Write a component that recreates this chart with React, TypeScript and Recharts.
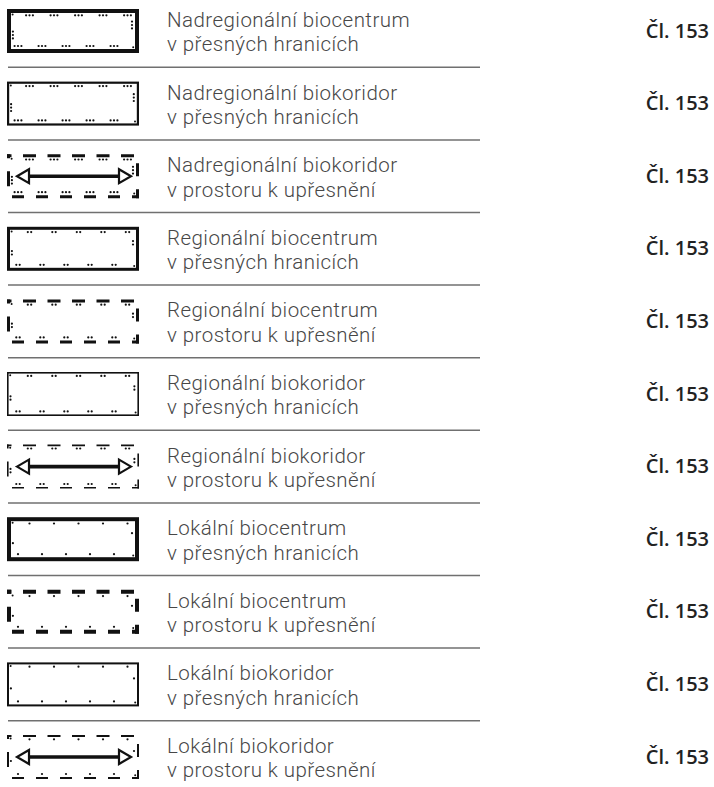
import React from "react";
import { ScatterChart, Scatter, XAxis, YAxis } from "recharts";

// legend rows, top to bottom
const titles = [
  "Nadregionální biocentrum",
  "Nadregionální biokoridor",
  "Nadregionální biokoridor",
  "Regionální biocentrum",
  "Regionální biocentrum",
  "Regionální biokoridor",
  "Regionální biokoridor",
  "Lokální biocentrum",
  "Lokální biocentrum",
  "Lokální biokoridor",
  "Lokální biokoridor",
];

const subtitles = [
  "v přesných hranicích",
  "v přesných hranicích",
  "v prostoru k upřesnění",
  "v přesných hranicích",
  "v prostoru k upřesnění",
  "v přesných hranicích",
  "v prostoru k upřesnění",
  "v přesných hranicích",
  "v prostoru k upřesnění",
  "v přesných hranicích",
  "v prostoru k upřesnění",
];

const articles = [
  "Čl. 153",
  "Čl. 153",
  "Čl. 153",
  "Čl. 153",
  "Čl. 153",
  "Čl. 153",
  "Čl. 153",
  "Čl. 153",
  "Čl. 153",
  "Čl. 153",
  "Čl. 153",
];

const INK = "#111";
const TEXT = "#474747";
const LABEL_FONT = "Roboto, 'Open Sans', sans-serif";
const ARTICLE_FONT = "'Open Sans', 'Noto Sans', sans-serif";

const rows = titles.map((title, i) => ({
  row: i,
  slot: 0,
  title,
  subtitle: subtitles[i],
  article: articles[i],
}));

const levelOf = (t: string) =>
  t.startsWith("Nadregion") ? 3 : t.startsWith("Region") ? 2 : 1;

// border weight by level and type; dashed corridors drawn a bit heavier
const borderOf = (level: number, centre: boolean, exact: boolean) => {
  if (centre) return level === 2 ? 3 : 4;
  if (level === 3) return exact ? 2.2 : 3;
  return level === 2 ? 1.6 : 2;
};

const dots = (x: number, y: number, n: number, vertical: boolean, key: string) =>
  Array.from({ length: n }, (_, k) => {
    const off = (k - (n - 1) / 2) * 3.4;
    return (
      <circle
        key={key + k}
        cx={vertical ? x : x + off}
        cy={vertical ? y + off : y}
        r={1.1}
        fill={INK}
      />
    );
  });

const LegendRow = (props: any) => {
  const { cx, cy, payload } = props;
  const level = levelOf(payload.title);
  const centre = payload.title.includes("biocentrum");
  const exact = payload.subtitle.includes("přesných");
  const sw = borderOf(level, centre, exact);

  const L = cx - 66;
  const R = cx + 66;
  const T = cy - 22;
  const B = cy + 22;
  const h = sw / 2;

  const marks: React.ReactNode[] = [];
  for (let k = 0; k < 5; k++) {
    marks.push(...dots(L + 22.5 + 24.5 * k, T + sw + 2.3, level, false, "t" + k));
    marks.push(...dots(L + 11 + 24 * k, B - sw - 3, level, false, "b" + k));
  }
  marks.push(...dots(R - sw - 3, T + 16, level, true, "r"));
  marks.push(...dots(L + sw + 1.9, T + 26, level, true, "l"));
  marks.push(<circle key="c1" cx={L + sw + 1.6} cy={T + sw + 1.6} r={1} fill={INK} />);
  marks.push(<circle key="c2" cx={R - sw - 1.8} cy={B - sw - 1.8} r={1} fill={INK} />);

  return (
    <g>
      {exact ? (
        <rect
          x={L + h}
          y={T + h}
          width={R - L - sw}
          height={B - T - sw}
          fill="none"
          stroke={INK}
          strokeWidth={sw}
        />
      ) : (
        <g stroke={INK} strokeWidth={sw} fill="none">
          <line x1={L} y1={T + h} x2={R} y2={T + h} strokeDasharray="13 11.5" strokeDashoffset={8.5} />
          <line x1={L} y1={B - h} x2={R} y2={B - h} strokeDasharray="12 12" strokeDashoffset={19} />
          <line x1={R - h} y1={T} x2={R - h} y2={B} strokeDasharray="0 9 13 13 9" />
          <line x1={L + h} y1={T} x2={L + h} y2={B} strokeDasharray="4 13 15 30" />
        </g>
      )}
      {marks}
      {!exact && !centre && (
        <g>
          <line x1={L + 20} y1={cy} x2={R - 18} y2={cy} stroke={INK} strokeWidth={3.6} />
          <polygon
            points={`${L + 10},${cy} ${L + 22},${cy - 7} ${L + 22},${cy + 7}`}
            fill="#fff"
            stroke={INK}
            strokeWidth={2.2}
          />
          <polygon
            points={`${R - 8},${cy} ${R - 20},${cy - 7} ${R - 20},${cy + 7}`}
            fill="#fff"
            stroke={INK}
            strokeWidth={2.2}
          />
        </g>
      )}
      <text
        x={cx + 94}
        y={cy - 4}
        fontFamily={LABEL_FONT}
        fontWeight={300}
        fontSize={20.5}
        letterSpacing={0.45}
        fill={TEXT}
      >
        <tspan x={cx + 94}>{payload.title}</tspan>
        <tspan x={cx + 94} dy={24.3}>
          {payload.subtitle}
        </tspan>
      </text>
      <text
        x={cx + 636}
        y={cy + 6.5}
        textAnchor="end"
        fontFamily={ARTICLE_FONT}
        fontWeight={600}
        fontSize={20}
        fill="#222"
      >
        {payload.article}
      </text>
      {payload.row < rows.length - 1 && (
        <line x1={cx - 65} y1={cy + 36.3} x2={cx + 407} y2={cy + 36.3} stroke="#707070" strokeWidth={1.5} />
      )}
    </g>
  );
};

export default function App() {
  return (
    <div style={{ position: "absolute", left: 0, top: 0, background: "#fff" }}>
      <ScatterChart width={714} height={787} margin={{ top: 31, right: 5, bottom: 30, left: 73 }}>
        <XAxis type="number" dataKey="slot" domain={[0, 1]} hide />
        <YAxis type="number" dataKey="row" domain={[0, rows.length - 1]} reversed hide />
        <Scatter data={rows} shape={LegendRow} isAnimationActive={false} />
      </ScatterChart>
    </div>
  );
}
